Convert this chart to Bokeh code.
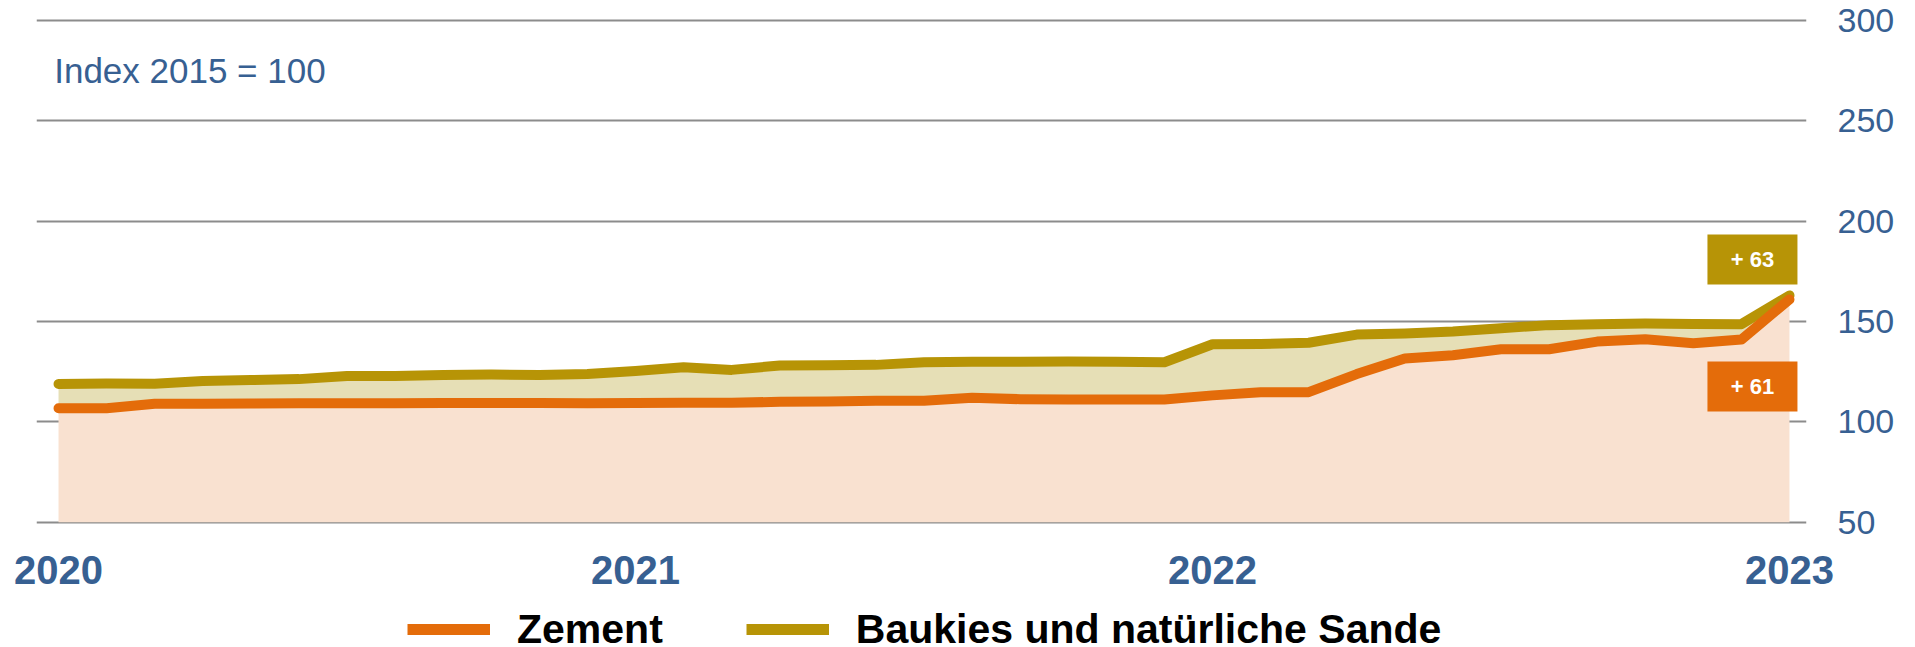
from bokeh.plotting import figure
from bokeh.layouts import column
from bokeh.models import Range1d, FixedTicker, Label, Legend, LegendItem
from bokeh.embed import file_html
from bokeh.resources import INLINE
from bokeh.core.properties import value

FONT = "Liberation Sans"

# ---- data (monthly index, 2015 = 100), Jan 2020 .. Jan 2023 ----
months = list(range(37))
zement = [106.8, 106.8, 109.0, 109.0, 109.2, 109.3, 109.3, 109.3, 109.4, 109.4, 109.4, 109.3,
          109.4, 109.5, 109.5, 110.0, 110.1, 110.5, 110.5, 112.0, 111.3, 111.1, 111.1, 111.1,
          113.2, 114.8, 114.8, 123.8, 131.6, 133.2, 136.2, 136.2, 140.0, 141.2, 139.2, 141.0,
          161.0]
baukies = [118.9, 119.1, 119.0, 120.4, 120.8, 121.3, 122.9, 122.9, 123.3, 123.6, 123.4, 123.8,
           125.3, 127.2, 125.9, 128.1, 128.2, 128.4, 129.7, 129.9, 129.9, 130.1, 129.9, 129.7,
           138.7, 138.8, 139.4, 143.5, 144.0, 145.0, 146.7, 148.2, 148.7, 149.0, 148.8, 148.7,
           163.0]
series_names = ["Zement", "Baukies und natürliche Sande"]
year_ticks = [0, 12, 24, 36]
year_labels = ["2020", "2021", "2022", "2023"]
y_ticks = [50, 100, 150, 200, 250, 300]
subtitle = "Index 2015 = 100"

# ---- styles ----
ORANGE = "#E46C0A"
OLIVE = "#B79406"
PEACH = "#F9E1D0"
OLIVE_FILL = "#E6DFB6"
BLUE = "#376092"
GRID = "#8C8C8C"

p = figure(width=1915, height=600, output_backend="svg", toolbar_location=None,
           x_range=Range1d(-0.458, 36.354), y_range=Range1d(48.36, 304.48),
           min_border_left=36, min_border_right=109, min_border_top=11, min_border_bottom=75,
           y_axis_location="right", title=None)
p.outline_line_color = None
p.background_fill_color = "white"
p.border_fill_color = "white"

p.xgrid.visible = False
p.ygrid.ticker = FixedTicker(ticks=y_ticks)
p.ygrid.grid_line_color = GRID
p.ygrid.grid_line_width = 2

p.yaxis.ticker = FixedTicker(ticks=y_ticks)
p.yaxis.axis_line_color = None
p.yaxis.major_tick_line_color = None
p.yaxis.minor_tick_line_color = None
p.yaxis.major_label_standoff = 25
p.yaxis.major_label_text_font = FONT
p.yaxis.major_label_text_font_size = "34px"
p.yaxis.major_label_text_color = BLUE

p.xaxis.ticker = FixedTicker(ticks=year_ticks)
p.xaxis.major_label_overrides = {t: l for t, l in zip(year_ticks, year_labels)}
p.xaxis.axis_line_color = None
p.xaxis.major_tick_line_color = None
p.xaxis.minor_tick_line_color = None
p.xaxis.major_label_standoff = 24
p.xaxis.major_label_text_font = FONT
p.xaxis.major_label_text_font_size = "40px"
p.xaxis.major_label_text_font_style = "bold"
p.xaxis.major_label_text_color = BLUE

# areas
p.varea(x=months, y1=[y_ticks[0]] * len(months), y2=zement, fill_color=PEACH, fill_alpha=1)
p.varea(x=months, y1=zement, y2=baukies, fill_color=OLIVE_FILL, fill_alpha=1)

# lines
p.line(months, baukies, line_width=10, line_color=OLIVE, line_cap="round", line_join="round")
p.line(months, zement, line_width=10, line_color=ORANGE, line_cap="round", line_join="round")

# end-value badges (change vs. 2015 = 100)
last = months[-1]
bx = [last - 0.77, last - 0.77]
by = [baukies[-1] + 17.9, zement[-1] - 43.4]
btxt = ["+ %d" % round(baukies[-1] - 100), "+ %d" % round(zement[-1] - 100)]
p.rect(x=bx, y=by, width=90, height=50, width_units="screen", height_units="screen",
       fill_color=[OLIVE, ORANGE], line_color=None)
p.text(x=bx, y=by, text=btxt, text_align="center", text_baseline="middle",
       text_color="white", text_font=value(FONT), text_font_style="bold", text_font_size="22px")

p.add_layout(Label(x=-0.09, y=274.9, text=subtitle, text_font=FONT, text_font_size="35px",
                   text_color=BLUE, text_baseline="alphabetic"))

# ---- legend strip below (its frame is aligned with the main frame) ----
p2 = figure(width=1915, height=47, output_backend="svg", toolbar_location=None,
            x_range=Range1d(0, 1), y_range=Range1d(0, 1),
            min_border_left=0, min_border_right=0, min_border_top=0, min_border_bottom=0,
            x_axis_type=None, y_axis_type=None, title=None)
p2.outline_line_color = None
p2.xgrid.visible = False
p2.ygrid.visible = False
p2.background_fill_color = "white"
p2.border_fill_color = "white"
# legend proxies (series data lies outside this strip's range, so only the swatches show)
lz = p2.line(x=months, y=zement, line_width=11, line_color=ORANGE, line_cap="butt")
lb = p2.line(x=months, y=baukies, line_width=11, line_color=OLIVE, line_cap="butt")
legend = Legend(items=[LegendItem(label=series_names[0], renderers=[lz]),
                       LegendItem(label=series_names[1], renderers=[lb])],
                location=(371, -12), orientation="horizontal",
                glyph_width=83, glyph_height=60, label_height=60, label_standoff=27, spacing=83,
                padding=0, margin=0, border_line_color=None, background_fill_alpha=0,
                label_text_font=FONT, label_text_font_size="41px", label_text_font_style="bold",
                label_text_color="black")
p2.add_layout(legend)

open("out.html", "w").write(file_html(column(p, p2, spacing=0), INLINE))
